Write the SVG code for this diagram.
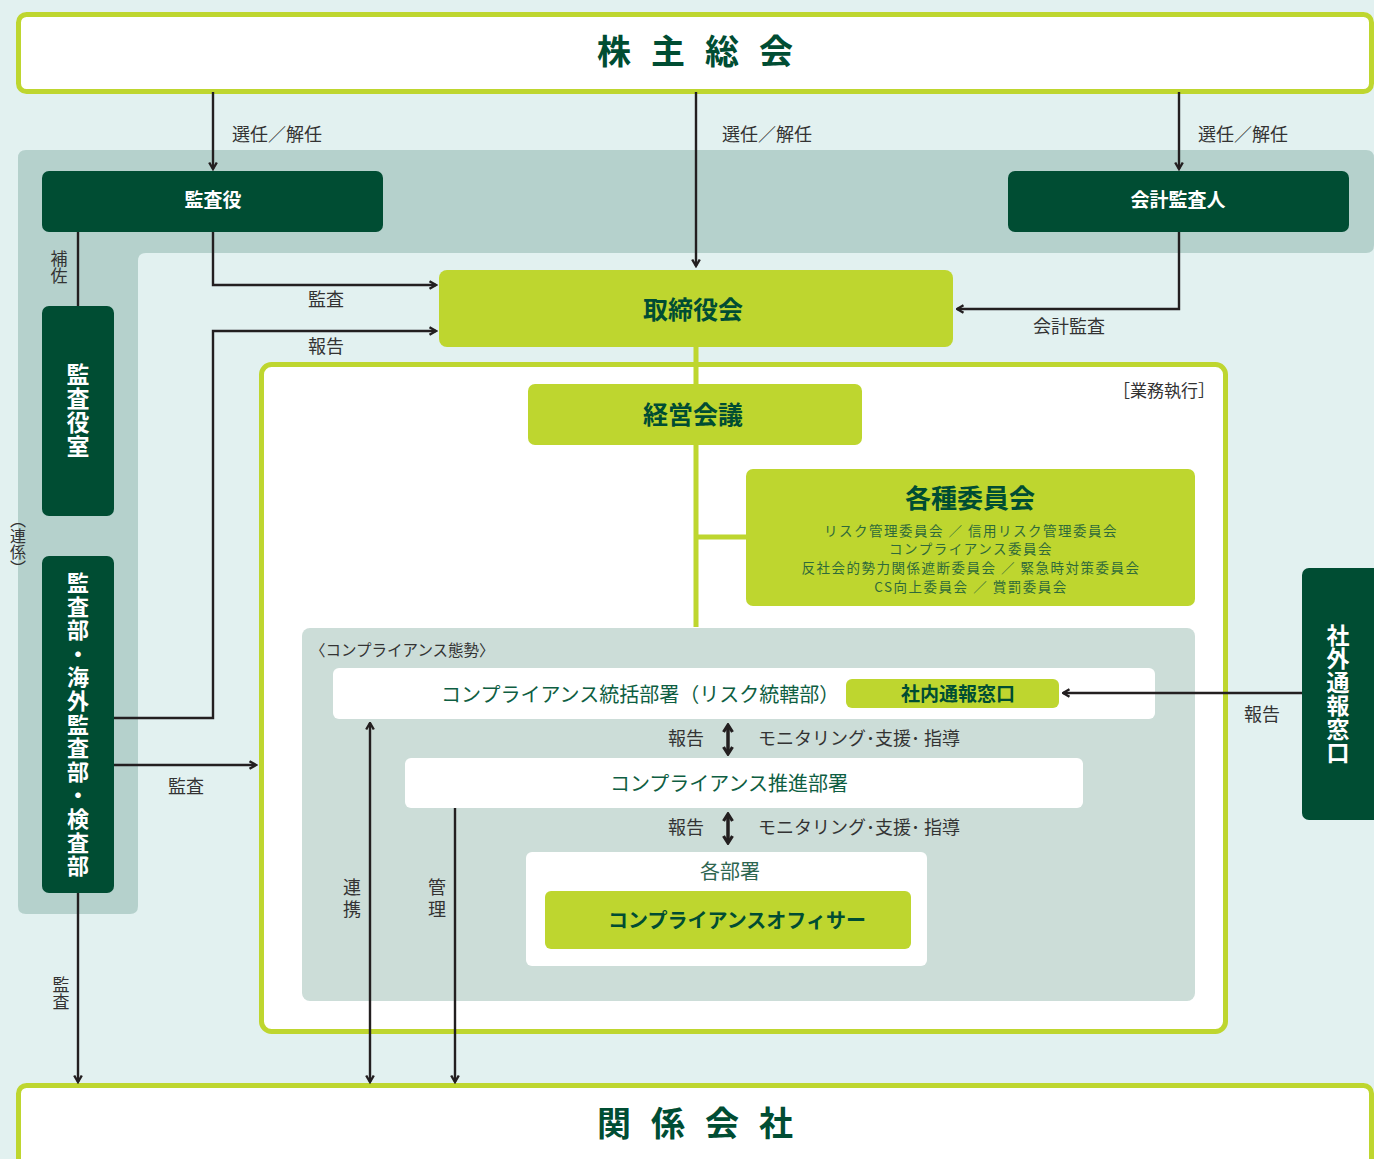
<svg xmlns="http://www.w3.org/2000/svg" width="1374" height="1159" viewBox="0 0 1374 1159">
<defs>
<style>
text{font-family:"Noto Sans CJK JP","Noto Sans",sans-serif;}
.lbl{font-size:18px;fill:#333;}
.big{font-size:34px;font-weight:bold;fill:#004D33;letter-spacing:20px;}
.dk{fill:#004D33;}
.lime{fill:#BED62F;}
.wt{fill:#fff;font-weight:bold;}
.gt{fill:#0E5E42;font-size:20px;}
.sub{font-size:13.5px;fill:#2F6A3A;letter-spacing:1.5px;}
.ln{fill:none;stroke:#231F20;stroke-width:2.4;}
.lc{fill:none;stroke:#BED62F;stroke-width:5;}
.vt{writing-mode:vertical-rl;}
</style>
<marker id="ah" viewBox="0 0 10 10" refX="8.5" refY="5" markerWidth="10" markerHeight="10" markerUnits="userSpaceOnUse" orient="auto-start-reverse"><path d="M2,1.2 L8.5,5 L2,8.8" fill="none" stroke="#231F20" stroke-width="2.4"/></marker>
<marker id="ah2" viewBox="0 0 12 12" refX="10" refY="6" markerWidth="12" markerHeight="12" markerUnits="userSpaceOnUse" orient="auto-start-reverse"><path d="M3,1.5 L10,6 L3,10.5" fill="none" stroke="#231F20" stroke-width="3.2"/></marker>
</defs>
<rect x="0" y="0" width="1374" height="1159" fill="#E2F1F0"/>
<path d="M26,150 H1366 Q1374,150 1374,158 V245 Q1374,253 1366,253 H146 Q138,253 138,261 V906 Q138,914 130,914 H26 Q18,914 18,906 V158 Q18,150 26,150 Z" fill="#B5D1CC"/>

<g id="soukai">
<rect x="18.5" y="14.5" width="1353" height="77" rx="8" fill="#fff" stroke="#BED62F" stroke-width="5"/>
<text x="705" y="64" text-anchor="middle" class="big">株主総会</text>
</g>

<g id="gyomu">
<rect x="261.5" y="364.5" width="964" height="667" rx="10" fill="#fff" stroke="#BED62F" stroke-width="5"/>
<text x="1215" y="397" text-anchor="end" class="lbl" style="font-size:17px">［業務執行］</text>
</g>

<g id="compliance-area">
<rect x="302" y="628" width="893" height="373" rx="8" fill="#CCDDD8"/>
<text x="310" y="656" class="lbl" style="font-size:15.5px">〈コンプライアンス態勢〉</text>
</g>

<g id="kansayaku">
<rect x="42" y="171" width="341" height="61" rx="7" class="dk"/>
<text x="213" y="207" text-anchor="middle" class="wt" style="font-size:19px">監査役</text>
</g>

<g id="kaikei">
<rect x="1008" y="171" width="341" height="61" rx="7" class="dk"/>
<text x="1178" y="207" text-anchor="middle" class="wt" style="font-size:19px">会計監査人</text>
</g>

<g id="torishimari">
<rect x="439" y="270" width="514" height="77" rx="8" class="lime"/>
<text x="693" y="319" text-anchor="middle" class="dk" style="font-size:25px;font-weight:bold">取締役会</text>
</g>

<g id="kansayakushitsu">
<rect x="42" y="306" width="72" height="210" rx="7" class="dk"/>
<text x="78" y="411" text-anchor="middle" class="wt vt" style="font-size:23px;letter-spacing:1px">監査役室</text>
</g>

<g id="kansabu">
<rect x="42" y="556" width="72" height="337" rx="7" class="dk"/>
<text x="78" y="725" text-anchor="middle" class="wt vt" style="font-size:22px;letter-spacing:1.6px">監査部・海外監査部・検査部</text>
</g>

<g id="keiei">
<rect x="528" y="384" width="334" height="61" rx="7" class="lime"/>
<text x="693" y="424" text-anchor="middle" class="dk" style="font-size:25px;font-weight:bold">経営会議</text>
</g>

<g id="iinkai">
<rect x="746" y="469" width="449" height="137" rx="7" class="lime"/>
<text x="970" y="508" text-anchor="middle" class="dk" style="font-size:26px;font-weight:bold">各種委員会</text>
<text x="971" y="536" text-anchor="middle" class="sub">リスク管理委員会 ／ 信用リスク管理委員会</text>
<text x="971" y="554" text-anchor="middle" class="sub">コンプライアンス委員会</text>
<text x="971" y="573" text-anchor="middle" class="sub">反社会的勢力関係遮断委員会 ／ 緊急時対策委員会</text>
<text x="971" y="592" text-anchor="middle" class="sub">CS向上委員会 ／ 賞罰委員会</text>
</g>

<g id="togatsu">
<rect x="333" y="668" width="822" height="51" rx="6" fill="#fff"/>
<text x="441" y="702" class="gt">コンプライアンス統括部署（リスク統轄部）</text>
</g>

<g id="shanai">
<rect x="846" y="679" width="213" height="29" rx="6" class="lime"/>
<text x="958" y="701" text-anchor="middle" class="dk" style="font-size:19px;font-weight:bold">社内通報窓口</text>
</g>

<g id="shagai">
<rect x="1302" y="568" width="80" height="252" rx="7" class="dk"/>
<text x="1338" y="694" text-anchor="middle" class="wt vt" style="font-size:23px;letter-spacing:0.5px">社外通報窓口</text>
</g>

<g id="suishin">
<rect x="405" y="758" width="678" height="50" rx="6" fill="#fff"/>
<text x="729" y="791" text-anchor="middle" class="gt">コンプライアンス推進部署</text>
</g>

<g id="kakubusho">
<rect x="526" y="852" width="401" height="114" rx="6" fill="#fff"/>
<text x="730" y="879" text-anchor="middle" class="gt" style="fill:#2E6650">各部署</text>
</g>

<g id="officer">
<rect x="545" y="891" width="366" height="58" rx="6" class="lime"/>
<text x="737" y="928" text-anchor="middle" class="dk" style="font-size:20px;font-weight:bold">コンプライアンスオフィサー</text>
</g>

<g id="kankei">
<rect x="18.5" y="1085.5" width="1353" height="90" rx="8" fill="#fff" stroke="#BED62F" stroke-width="5"/>
<text x="705" y="1136" text-anchor="middle" class="big">関係会社</text>
</g>

<g id="connectors">
<path class="lc" d="M696,347 V384 M696,445 V627 M696,537 H746"/>
<path class="ln" d="M213,92 V169" marker-end="url(#ah)"/>
<path class="ln" d="M696,92 V266" marker-end="url(#ah)"/>
<path class="ln" d="M1179,92 V169" marker-end="url(#ah)"/>
<path class="ln" d="M213,232 V285 H436" marker-end="url(#ah)"/>
<path class="ln" d="M114,718 H213 V331 H436" marker-end="url(#ah)"/>
<path class="ln" d="M1179,232 V309 H957" marker-end="url(#ah)"/>
<path class="ln" d="M78,232 V306"/>
<path class="ln" d="M114,765 H256" marker-end="url(#ah)"/>
<path class="ln" d="M78,893 V1082" marker-end="url(#ah)"/>
<path class="ln" d="M1302,693 H1063" marker-end="url(#ah)"/>
<path class="ln" d="M370,723 V1082" marker-start="url(#ah)" marker-end="url(#ah)"/>
<path class="ln" d="M455,808 V1082" marker-end="url(#ah)"/>
<path fill="none" stroke="#231F20" stroke-width="3.5" d="M728,725 V754" marker-start="url(#ah2)" marker-end="url(#ah2)"/>
<path fill="none" stroke="#231F20" stroke-width="3.5" d="M728,814 V843" marker-start="url(#ah2)" marker-end="url(#ah2)"/>
</g>

<g id="labels">
<text x="232" y="141" class="lbl">選任／解任</text>
<text x="722" y="141" class="lbl">選任／解任</text>
<text x="1198" y="141" class="lbl">選任／解任</text>
<text x="326" y="306" text-anchor="middle" class="lbl">監査</text>
<text x="326" y="353" text-anchor="middle" class="lbl">報告</text>
<text x="1069" y="333" text-anchor="middle" class="lbl">会計監査</text>
<text x="59" y="250" class="lbl vt" style="font-size:17px">補佐</text>
<text x="18" y="512" class="lbl vt" style="font-size:16px">（連係）</text>
<text x="186" y="793" text-anchor="middle" class="lbl">監査</text>
<text x="61" y="976" class="lbl vt" style="font-size:17px">監査</text>
<text x="1262" y="721" text-anchor="middle" class="lbl">報告</text>
<text x="704" y="745" text-anchor="end" class="lbl">報告</text>
<text x="758" y="745" class="lbl">モニタリング･支援･ 指導</text>
<text x="704" y="834" text-anchor="end" class="lbl">報告</text>
<text x="758" y="834" class="lbl">モニタリング･支援･ 指導</text>
<text x="352" y="878" class="lbl vt" style="letter-spacing:4px">連携</text>
<text x="437" y="878" class="lbl vt" style="letter-spacing:4px">管理</text>
</g>
</svg>
